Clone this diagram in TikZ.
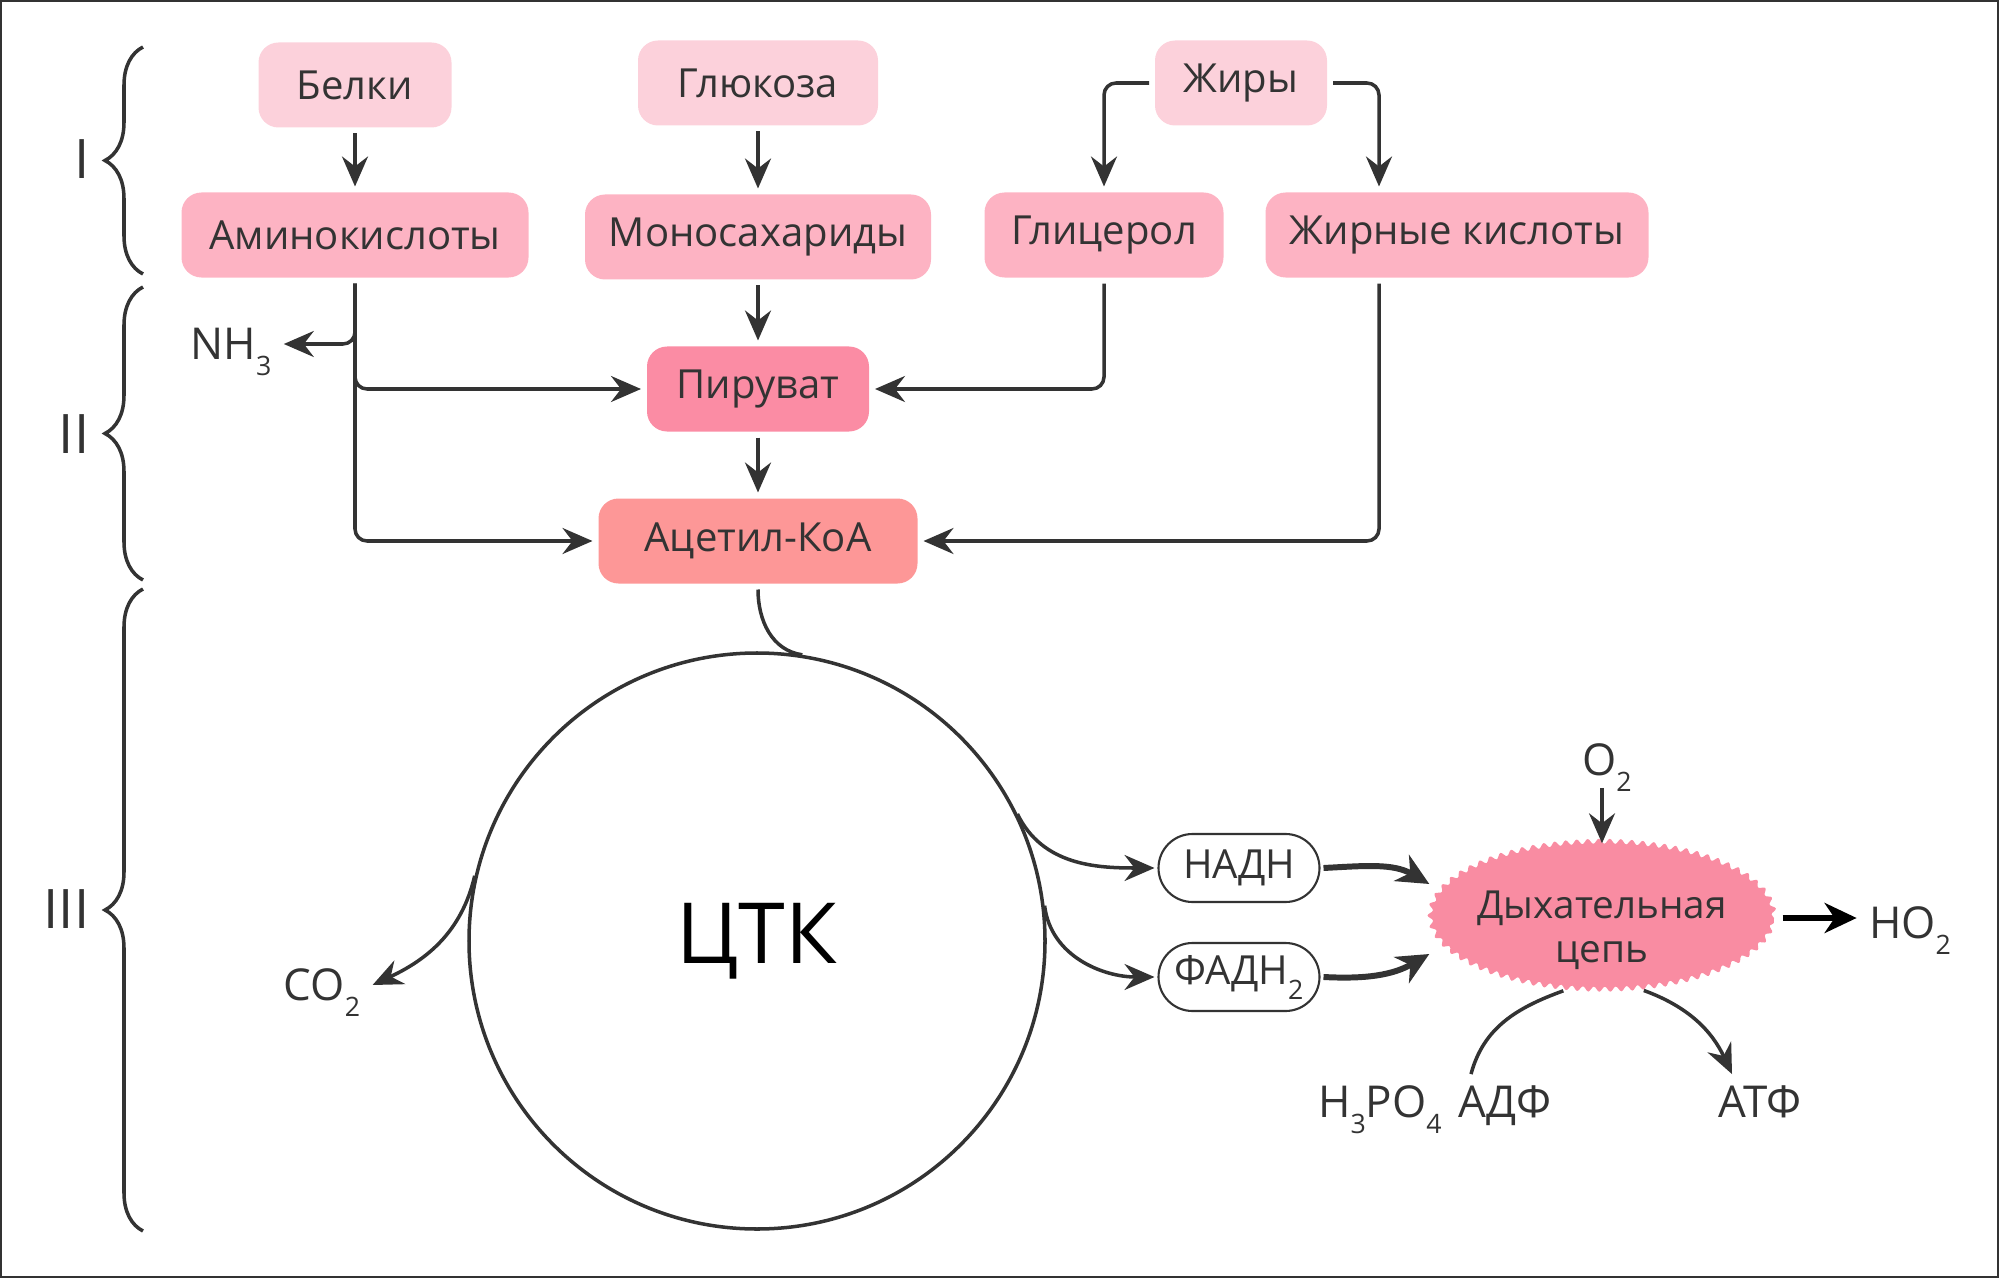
\documentclass[tikz,border=0pt]{standalone}
\usepackage{fontspec}
\setmainfont{Open Sans}
\usetikzlibrary{arrows.meta,positioning,shapes.geometric,decorations.pathmorphing,decorations.pathreplacing}
\definecolor{ink}{HTML}{333333}
\definecolor{srccol}{HTML}{FCD1DB}
\definecolor{midcol}{HTML}{FDB3C3}
\definecolor{pyrcol}{HTML}{FB8CA4}
\definecolor{acecol}{HTML}{FD9797}
\definecolor{chaincol}{HTML}{F98CA2}
\newcommand{\lowidx}[1]{\raisebox{-0.7ex}{\fontsize{7.6}{8}\selectfont #1}}
\tikzset{
    box/.style={rounded corners=0.2cm, minimum height=0.85cm, text=ink, font=\fontsize{11.4}{13}\selectfont, outer sep=0.06cm},
    pill/.style={draw=ink, line width=0.6pt, rounded corners=0.34cm, minimum width=1.61cm, minimum height=0.68cm, text=ink, font=\fontsize{11.4}{13}\selectfont, outer sep=0.04cm},
    chem/.style={text=ink, font=\fontsize{12.5}{14}\selectfont, text height=0.31cm, text depth=0pt},
    roman/.style={text=ink, font=\fontsize{15.5}{17}\selectfont, anchor=east, inner sep=0pt},
    conn/.style={draw=ink, line width=1pt},
    arr/.style={conn, -{Stealth[length=0.3cm, width=0.26cm, inset=0.1cm]}},
    fat/.style={conn, line width=1.7pt, -{Stealth[length=0.32cm, width=0.3cm, inset=0.1cm]}},
    curly/.style={conn, decorate, decoration={brace, amplitude=0.38cm}}
}
\begin{document}
\begin{tikzpicture}
        \useasboundingbox (0,0) rectangle (20,-12.79);
        \draw[ink, line width=0.6pt] (0.01,-0.01) rectangle (19.98,-12.77);

        \node[box, fill=srccol, minimum width=1.93cm] (belki) at (3.55,-0.85) {Белки};
        \node[box, fill=srccol, minimum width=2.40cm] (gluc) at (7.58,-0.83) {Глюкоза};
        \node[box, fill=srccol, minimum width=1.72cm] (zhiry) at (12.41,-0.83) {Жиры};
        \node[box, fill=midcol, minimum width=3.47cm] (amino) at (3.55,-2.35) {Аминокислоты};
        \node[box, fill=midcol, minimum width=3.46cm] (mono) at (7.58,-2.37) {Моносахариды};
        \node[box, fill=midcol, minimum width=2.39cm] (glyc) at (11.04,-2.35) {Глицерол};
        \node[box, fill=midcol, minimum width=3.83cm] (fatac) at (14.57,-2.35) {Жирные кислоты};
        \node[box, fill=pyrcol, minimum width=2.22cm] (pyr) at (7.58,-3.89) {Пируват};
        \node[box, fill=acecol, minimum width=3.19cm] (acet) at (7.58,-5.41) {Ацетил-КоА};
        \node[chem] (nh3) at (2.31,-3.44) {NH\lowidx{3}};

        \draw[arr] (belki) -- (amino);
        \draw[arr] (gluc) -- (mono);
        \draw[arr] (mono) -- (pyr);
        \draw[arr] (pyr) -- (acet);
        \draw[arr, rounded corners=0.12cm] (amino.south) |- (nh3.east);
        \draw[arr, rounded corners=0.12cm] (amino.south) |- (pyr.west);
        \draw[arr, rounded corners=0.12cm] (amino.south) |- (acet.west);
        \draw[arr, rounded corners=0.12cm] (zhiry.west) -| (glyc.north);
        \draw[arr, rounded corners=0.12cm] (zhiry.east) -| ([xshift=-0.78cm]fatac.north);
        \draw[arr, rounded corners=0.12cm] (glyc.south) |- (pyr.east);
        \draw[arr, rounded corners=0.12cm] ([xshift=-0.78cm]fatac.south) |- (acet.east);

        \node[circle, draw=ink, line width=1pt, minimum size=5.76cm, inner sep=0pt, font=\fontsize{24}{26}\selectfont] (tca) at (7.57,-9.41) {ЦТК};
        \node[chem] (co2) at (3.22,-9.85) {CO\lowidx{2}};
        \node[pill] (nadh) at (12.39,-8.68) {НАДН};
        \node[pill] (fadh) at (12.39,-9.77) {ФАДН\lowidx{2}};
        \node[ellipse, fill=chaincol, decorate, decoration={snake, segment length=0.11cm, amplitude=0.025cm}, minimum width=3.44cm, minimum height=1.48cm, inner sep=0pt] (chain) at (16.02,-9.18) {};
        \node[align=center, text=ink, font=\fontsize{11}{12.5}\selectfont] (chainlbl) at ([yshift=-0.12cm]chain.center) {Дыхательная\\цепь};
        \node[chem] (o2) at (16.07,-7.60) {O\lowidx{2}};
        \node[chem] (ho2) at (19.10,-9.23) {HO\lowidx{2}};
        \node[chem] (adp) at (15.05,-11.02) {АДФ};
        \node[chem, left=-0.08cm of adp] (h3po4) {H\lowidx{3}PO\lowidx{4}};
        \node[chem] (atp) at (17.60,-11.02) {АТФ};

        \draw[conn] (acet.south) to[out=-90, in=172] (tca.81);
        \draw[arr] (tca.167) to[out=-103, in=25] (co2.east);
        \draw[arr] (tca.26) to[out=-64, in=180] (nadh.west);
        \draw[arr] (tca.7) to[out=-83, in=180] (fadh.west);
        \draw[fat] (nadh.east) to[out=3, in=150] ([yshift=0.34cm]chain.west);
        \draw[fat] (fadh.east) to[out=-3, in=-150] ([yshift=-0.36cm]chain.west);
        \draw[arr] (o2.south -| chain.north) -- (chain.north);
        \draw[fat, draw=black, shorten <=0.08cm] (chain.east) -- (chain.east -| ho2.west);
        \draw[conn] ([xshift=-0.34cm]adp.north) to[out=75, in=200] (chain.-118);
        \draw[arr] (chain.-60) to[out=-20, in=115] ([xshift=-0.28cm]atp.north);

        \node[roman] (r1) at (0.90,-1.59) {I};
        \node[roman] (r2) at (0.90,-4.34) {II};
        \node[roman] (r3) at (0.90,-9.09) {III};
        \draw[curly] (1.43,-2.74) -- (1.43,-0.47);
        \draw[curly] (1.43,-5.80) -- (1.43,-2.87);
        \draw[curly] (1.43,-12.31) -- (1.43,-5.89);
\end{tikzpicture}
\end{document}
